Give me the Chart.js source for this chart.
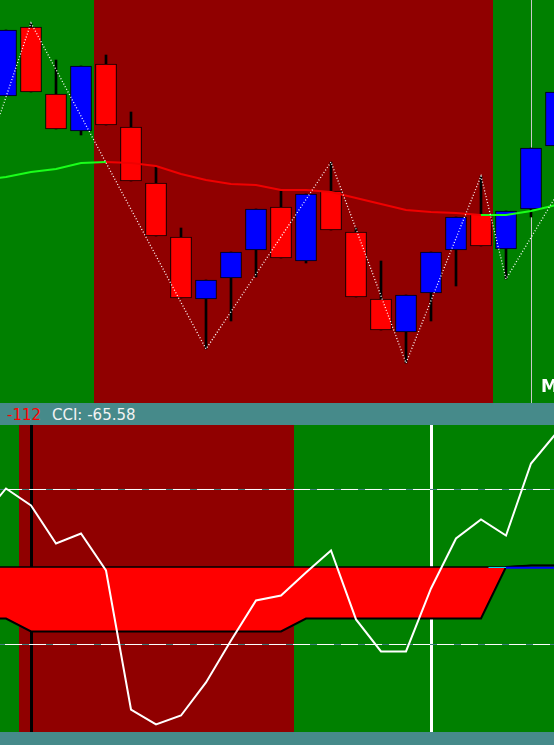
<!DOCTYPE html>
<html>
<head>
<meta charset="utf-8">
<script src="https://cdn.jsdelivr.net/npm/chart.js"></script>
<style>
body{margin:0;width:554px;height:745px;overflow:hidden;background:#468a8a;position:relative;font-family:"DejaVu Sans",sans-serif}
canvas{position:absolute;left:0}
#priceChart{top:0}
#cciChart{top:425px}
.strip{position:absolute;left:0;width:554px;background:#468a8a}
#strip1{top:403px;height:22px}
#strip2{top:732px;height:13px}
.lbl{position:absolute;top:0;font-size:15px;line-height:24px}
#mark{position:absolute;left:541px;top:376px;color:#fff;font:bold 17px "DejaVu Sans",sans-serif}
</style>
</head>
<body>
<canvas id="priceChart" width="554" height="403"></canvas>
<div id="mark">M</div>
<div class="strip" id="strip1"><span class="lbl" style="left:7px;color:#ff0000">-112</span><span class="lbl" style="left:52px;color:#f2f2f2">CCI: -65.58</span></div>
<canvas id="cciChart" width="554" height="307"></canvas>
<div class="strip" id="strip2"></div>
<script>
// bars 0..22
var open  = [1.2304,1.2373,1.2306,1.2269,1.2336,1.2273,1.2217,1.2163,1.2101,1.2122,1.2150,1.2193,1.2139,1.2209,1.2168,1.2101,1.2068,1.2107,1.2150,1.2186,1.2151,1.2191,1.2254];
var high  = [1.2370,1.2377,1.2340,1.2334,1.2345,1.2288,1.2233,1.2172,1.2120,1.2148,1.2191,1.2209,1.2206,1.2238,1.2172,1.2139,1.2105,1.2148,1.2183,1.2224,1.2189,1.2252,1.2308];
var low   = [1.2304,1.2308,1.2271,1.2265,1.2275,1.2219,1.2164,1.2102,1.2051,1.2079,1.2123,1.2142,1.2137,1.2170,1.2103,1.2070,1.2037,1.2079,1.2114,1.2154,1.2121,1.2183,1.2254];
var close = [1.2370,1.2308,1.2271,1.2334,1.2275,1.2219,1.2164,1.2102,1.2120,1.2148,1.2191,1.2142,1.2206,1.2170,1.2103,1.2070,1.2105,1.2148,1.2183,1.2154,1.2189,1.2252,1.2308];

// moving average, bars -1..22
var maX     = [-1,0,1,2,3,4,5,6,7,8,9,10,11,12,13,14,15,16,17,18,19,20,21,22];
var maVal   = [1.2220,1.2223,1.2228,1.2231,1.2237,1.2238,1.2237,1.2234,1.2226,1.2220,1.2216,1.2215,1.2210,1.2210,1.2208,1.2202,1.2196,1.2190,1.2188,1.2187,1.2185,1.2185,1.2189,1.2195];
var maTrend = ['up','up','up','up','up','dn','dn','dn','dn','dn','dn','dn','dn','dn','dn','dn','dn','dn','dn','dn','up','up','up','up'];

// zigzag pivots
var zzX = [-1, 1, 8, 13, 16, 19, 20, 22];
var zzY = [1.2229, 1.2377, 1.2051, 1.2238, 1.2037, 1.2224, 1.2121, 1.2204];

// CCI, bars -1..22
var cciX = maX;
var cci  = [62,101.3,79.4,30.3,43.2,-4.5,-183.9,-203.2,-191.6,-149.0,-94.8,-43.2,-36.8,-7.1,21.3,-67.7,-109.0,-109.0,-27.7,36.8,61.3,40.6,133.5,172.3];
var bandUpper = [0,0,0,0,0,0,0,0,0,0,0,0,0,0,0,0,0,0,0,0,0,0,2,2];
var bandLower = [-66.5,-66.5,-83.2,-83.2,-83.2,-83.2,-83.2,-83.2,-83.2,-83.2,-83.2,-83.2,-83.2,-66.5,-66.5,-66.5,-66.5,-66.5,-66.5,-66.5,-66.5,0,2,2];
var sigX = [20, 21, 22];
var sig  = [-1, -1, -1];
var levels = [100, -100];

var GREEN = '#008000', DARKRED = '#900000';
var topZones = [{from:-1,to:3.5,color:GREEN},{from:3.5,to:19.5,color:DARKRED},{from:19.5,to:23,color:GREEN}];
var cciZones = [{from:-1,to:0.5,color:GREEN},{from:0.5,to:11.5,color:DARKRED},{from:11.5,to:23,color:GREEN}];

var bandsPlugin = {
  id: 'bands',
  beforeDatasetsDraw: function(chart, args, opts) {
    var ctx = chart.ctx, a = chart.chartArea, x = chart.scales.x;
    ctx.save();
    opts.zones.forEach(function(z) {
      var x0 = Math.round(x.getPixelForValue(z.from)), x1 = Math.round(x.getPixelForValue(z.to));
      ctx.fillStyle = z.color;
      ctx.fillRect(x0, a.top, x1 - x0, a.bottom - a.top);
    });
    opts.vlines.forEach(function(v) {
      var px = Math.round(x.getPixelForValue(v.at));
      ctx.fillStyle = v.color;
      ctx.fillRect(px - Math.floor(v.width / 2), a.top, v.width, a.bottom - a.top);
    });
    ctx.restore();
  }
};

function pts(xs, ys) { return xs.map(function(x, i) { return {x: x, y: ys[i]}; }); }

var idx = open.map(function(v, i) { return i; });
var bodyColors = idx.map(function(i) { return close[i] >= open[i] ? '#0000ff' : '#ff0000'; });

function xScale() { return {type: 'linear', min: -0.24, max: 21.92, offset: false, display: false}; }
var common = {
  responsive: false,
  maintainAspectRatio: false,
  devicePixelRatio: 1,
  animation: false,
  layout: {padding: 0},
  elements: {point: {radius: 0}, line: {tension: 0}}
};

new Chart(document.getElementById('priceChart'), {
  type: 'bar',
  data: {
    datasets: [
      {type: 'line', data: pts(zzX, zzY), borderColor: '#ffffff', borderWidth: 1.3, borderDash: [1, 2], order: 0},
      {type: 'line', data: pts(maX, maVal), borderWidth: 2, borderColor: '#ff0000',
        segment: {borderColor: function(c) { return maTrend[c.p0DataIndex] === 'up' ? '#1aff1a' : '#f00000'; }}, order: 1},
      {data: idx.map(function(i) { return {x: i, y: [open[i], close[i]]}; }), backgroundColor: bodyColors,
        borderColor: '#000000', borderWidth: 1, borderSkipped: false, barThickness: 21, grouped: false, order: 2},
      {data: idx.map(function(i) { return {x: i, y: [low[i], high[i]]}; }), backgroundColor: '#000000',
        borderWidth: 0, barThickness: 2, grouped: false, order: 3}
    ]
  },
  options: Object.assign({}, common, {
    scales: {x: xScale(), y: {min: 1.1997, max: 1.2400, display: false}},
    plugins: {legend: {display: false}, tooltip: {enabled: false},
      bands: {zones: topZones, vlines: [{at: 21, width: 1, color: '#c8c8c8'}]}}
  }),
  plugins: [bandsPlugin]
});

var cciSets = [
  {type: 'line', data: pts(cciX, cci), borderColor: '#ffffff', borderWidth: 2, order: 0},
  {type: 'line', data: pts(sigX, sig), borderColor: '#0000ff', borderWidth: 2, order: 4},
  {type: 'line', data: [{x: 19.3, y: -0.6}, {x: 20, y: -0.6}], borderColor: '#00e5ff', borderWidth: 1, order: 4}
];
levels.forEach(function(l) {
  cciSets.push({type: 'line', data: [{x: -1, y: l}, {x: 23, y: l}], borderColor: '#3f7f7f', borderWidth: 1, order: 3});
  cciSets.push({type: 'line', data: [{x: -1, y: l}, {x: 23, y: l}], borderColor: '#ffffff', borderWidth: 1, borderDash: [17, 7], order: 2});
});
cciSets.push({type: 'line', data: pts(cciX, bandUpper), borderColor: '#000000', borderWidth: 1.5, order: 5});
cciSets.push({type: 'line', data: pts(cciX, bandLower), borderColor: '#000000', borderWidth: 2, fill: '-1', backgroundColor: '#ff0000', order: 6});

new Chart(document.getElementById('cciChart'), {
  type: 'line',
  data: {datasets: cciSets},
  options: Object.assign({}, common, {
    scales: {x: xScale(), y: {min: -212.9, max: 183.2, display: false}},
    plugins: {legend: {display: false}, tooltip: {enabled: false},
      bands: {zones: cciZones, vlines: [{at: 1, width: 3, color: '#000000'}, {at: 17, width: 3, color: '#ffffff'}]}}
  }),
  plugins: [bandsPlugin]
});
</script>
</body>
</html>
